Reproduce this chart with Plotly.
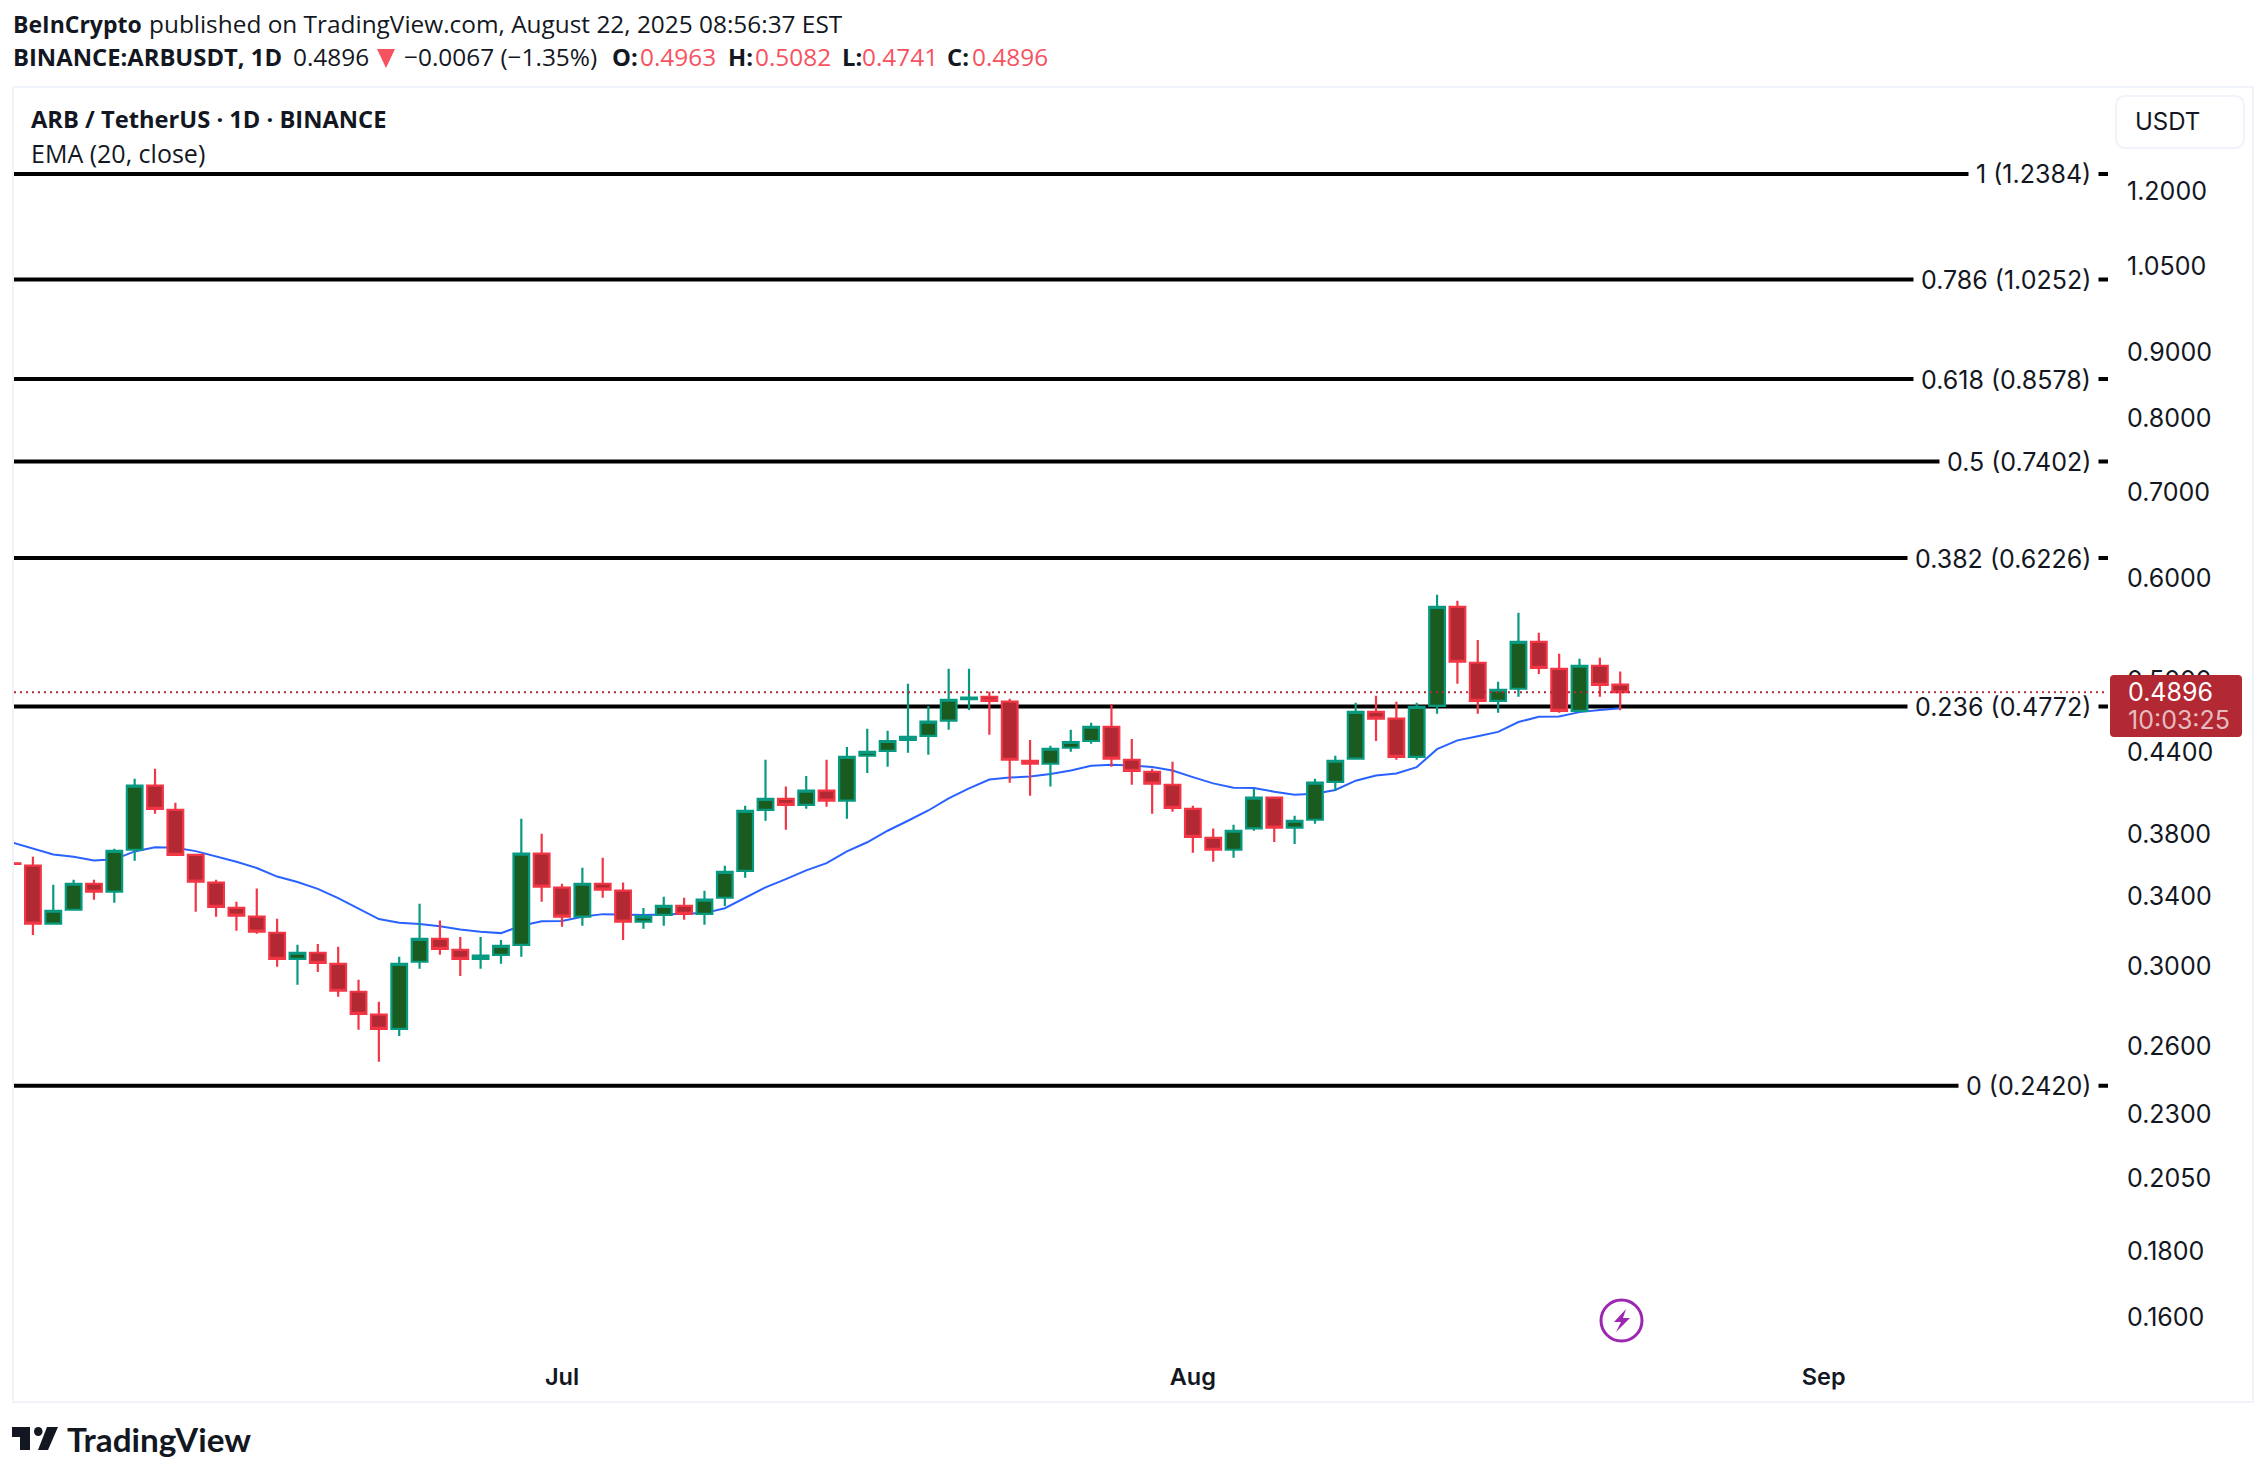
import numpy as np
import pandas as pd
import plotly.graph_objects as go

W, H = 2266, 1476

dates = pd.date_range("2025-06-04", "2025-08-22")
open_ = [.3604, .3589, .3235, .3317, .3475, .3426, .3693, .4142, .3967, .3660, .3482, .3328, .3276, .3183, .3038, .3071,
         .3011, .2864, .2749, .2680, .3022, .3148, .3087, .3038, .3060, .3115, .3667, .3451, .3276, .3475, .3432, .3247,
         .3287, .3340, .3293, .3389, .3556, .3967, .4046, .4002, .4105, .4032, .4370, .4409, .4495, .4528, .4653, .4836,
         .4857, .4815, .4331, .4308, .4433, .4487, .4603, .4339, .4245, .4149, .3974, .3772, .3693, .3837, .4054, .3842,
         .3897, .4171, .4347, .4728, .4670, .4362, .4778, .5705, .5162, .4822, .4927, .5358, .5106, .4736, .5134, .4963]
high = [.3620, .3647, .3469, .3500, .3500, .3699, .4193, .4269, .4017, .3667, .3500, .3365, .3445, .3264, .3115, .3120,
        .3104, .2926, .2813, .3049, .3352, .3253, .3159, .3159, .3142, .3904, .3800, .3475, .3576, .3641, .3482, .3328,
        .3395, .3389, .3432, .3589, .3995, .4339, .4135, .4215, .4339, .4440, .4586, .4570, .4971, .4778, .5106, .5106,
        .4901, .4839, .4495, .4448, .4578, .4636, .4795, .4503, .4269, .4323, .3995, .3837, .3862, .4120, .4061, .3925,
        .4193, .4370, .4804, .4866, .4813, .4804, .5831, .5768, .5377, .4989, .5645, .5447, .5246, .5199, .5209, .5082]
low = [.3590, .3171, .3229, .3311, .3377, .3359, .3621, .3939, .3654, .3305, .3276, .3194, .3177, .2995, .2900, .2967,
       .2839, .2676, .2527, .2646, .2984, .3060, .2946, .2984, .3011, .3049, .3365, .3218, .3223, .3389, .3142, .3206,
       .3223, .3258, .3229, .3340, .3512, .3890, .3828, .3974, .3988, .3904, .4238, .4284, .4394, .4378, .4578, .4744,
       .4537, .4164, .4068, .4135, .4401, .4464, .4284, .4149, .3939, .3953, .3673, .3615, .3641, .3821, .3745, .3732,
       .3869, .4105, .4339, .4487, .4339, .4339, .4711, .4971, .4711, .4719, .4857, .5059, .4719, .4728, .4857, .4741]
close = [.3600, .3235, .3311, .3475, .3426, .3686, .4142, .3974, .3660, .3488, .3334, .3282, .3189, .3038, .3071, .3016,
         .2869, .2753, .2680, .3011, .3148, .3093, .3038, .3055, .3109, .3667, .3457, .3276, .3475, .3438, .3247, .3278,
         .3340, .3293, .3377, .3550, .3960, .4046, .4002, .4105, .4032, .4362, .4401, .4487, .4520, .4645, .4831, .4850,
         .4822, .4339, .4308, .4425, .4479, .4603, .4347, .4253, .4157, .3981, .3779, .3693, .3821, .4054, .3842, .3890,
         .4164, .4331, .4728, .4670, .4362, .4769, .5705, .5171, .4822, .4918, .5358, .5115, .4736, .5134, .4962, .4896]
ema_20 = [.3741, .3699, .3662, .3647, .3623, .3630, .3682, .3710, .3706, .3684, .3649, .3615, .3574, .3520, .3486, .3443,
          .3387, .3326, .3262, .3241, .3233, .3220, .3202, .3189, .3181, .3223, .3249, .3251, .3276, .3291, .3287, .3286,
          .3289, .3291, .3297, .3326, .3391, .3453, .3504, .3559, .3606, .3682, .3743, .3821, .3890, .3962, .4049, .4122,
          .4188, .4203, .4210, .4230, .4256, .4292, .4300, .4295, .4282, .4256, .4206, .4159, .4127, .4125, .4098, .4076,
          .4083, .4110, .4179, .4218, .4233, .4282, .4422, .4492, .4525, .4561, .4642, .4686, .4689, .4725, .4744, .4758]

fib_ratios = ["1", "0.786", "0.618", "0.5", "0.382", "0.236", "0"]
fib_prices = [1.2384, 1.0252, 0.8578, 0.7402, 0.6226, 0.4772, 0.2420]
last_price = 0.4896

price_ticks = [1.2, 1.05, 0.9, 0.8, 0.7, 0.6, 0.5, 0.44, 0.38, 0.34, 0.3, 0.26, 0.23, 0.205, 0.18, 0.16]
price_labels = ["1.2000", "1.0500", "0.9000", "0.8000", "0.7000", "0.6000", "0.5000", "0.4400", "0.3800", "0.3400",
                "0.3000", "0.2600", "0.2300", "0.2050", "0.1800", "0.1600"]
month_ticks = ["2025-07-01", "2025-08-01", "2025-09-01"]
month_labels = ["Jul", "Aug", "Sep"]

x_range = ["2025-06-04 01:41", "2025-09-14 23:17"]
y_range = [np.log10(0.1508), np.log10(1.4445)]

INK = "#131722"
RED = "#f23645"
RED_FILL = "#b22833"
RED_TEXT = "#f7525f"
GREEN = "#089981"
GREEN_FILL = "#1a5c20"
BORDER = "#f0f3fa"
UI_FONT = "Inter"
HEAD_FONT = "Open Sans"


def px(x):
    return x / W


def py(y):
    return 1 - y / H


def rounded_rect(x0, y0, x1, y1, r):
    pts = [f"M {px(x0 + r)} {py(y0)}", f"L {px(x1 - r)} {py(y0)}", f"Q {px(x1)} {py(y0)} {px(x1)} {py(y0 + r)}",
           f"L {px(x1)} {py(y1 - r)}", f"Q {px(x1)} {py(y1)} {px(x1 - r)} {py(y1)}", f"L {px(x0 + r)} {py(y1)}",
           f"Q {px(x0)} {py(y1)} {px(x0)} {py(y1 - r)}", f"L {px(x0)} {py(y0 + r)}",
           f"Q {px(x0)} {py(y0)} {px(x0 + r)} {py(y0)}", "Z"]
    return " ".join(pts)


def polygon(points):
    return "M " + " L ".join(f"{px(a)} {py(b)}" for a, b in points) + " Z"


def add_text(fig, x, y, text, size, color=INK, family=UI_FONT, anchor="left"):
    fig.add_annotation(xref="paper", yref="paper", x=px(x), y=py(y), text=text, showarrow=False, xanchor=anchor,
                       yanchor="middle", font=dict(size=size, color=color, family=family), borderpad=0)


fig = go.Figure()

# fib levels sit behind everything
for price in fib_prices:
    fig.add_trace(go.Scatter(x=x_range, y=[price, price], mode="lines", line=dict(color="#000000", width=4),
                             hoverinfo="skip", showlegend=False))
fig.add_trace(go.Scatter(x=dates, y=ema_20, mode="lines", line=dict(color="#2962ff", width=2), name="EMA (20, close)",
                         showlegend=False))

# candles on an overlay axis pair, otherwise scatter lines get drawn over them
fig.add_trace(go.Candlestick(x=dates, open=open_, high=high, low=low, close=close, xaxis="x2", yaxis="y2",
                             increasing=dict(line=dict(color=GREEN, width=2.2), fillcolor=GREEN_FILL),
                             decreasing=dict(line=dict(color=RED, width=2.2), fillcolor=RED_FILL),
                             showlegend=False))
fig.add_trace(go.Scatter(x=x_range, y=[last_price, last_price], mode="lines", xaxis="x3", yaxis="y3",
                         line=dict(color=RED_FILL, width=2, dash="2px,4px"), hoverinfo="skip", showlegend=False))

x_domain = [px(14), px(2108)]
y_domain = [py(1350), py(88)]
hidden_x = dict(domain=x_domain, type="date", range=x_range, overlaying="x", visible=False, rangeslider=dict(visible=False))
hidden_y = dict(domain=y_domain, type="log", range=y_range, overlaying="y", visible=False)

fig.update_layout(
    width=W, height=H, autosize=False, margin=dict(l=0, r=0, t=0, b=0, pad=0),
    paper_bgcolor="#ffffff", plot_bgcolor="#ffffff", boxgap=0.23, boxgroupgap=0, showlegend=False,
    xaxis=dict(domain=x_domain, type="date", range=x_range, tickvals=month_ticks, ticktext=month_labels, ticks="",
               showgrid=False, zeroline=False, showline=False, ticklabelstandoff=10,
               tickfont=dict(family=UI_FONT, size=23.5, color=INK, weight=600), rangeslider=dict(visible=False)),
    yaxis=dict(domain=y_domain, type="log", range=y_range, side="right", tickvals=price_ticks, ticktext=price_labels,
               ticks="", showgrid=False, zeroline=False, showline=False, ticklabelstandoff=18,
               tickfont=dict(family=UI_FONT, size=25, color=INK)),
    xaxis2=hidden_x, yaxis2=hidden_y, xaxis3=hidden_x, yaxis3=hidden_y,
)

# panel frame
fig.add_shape(type="rect", xref="paper", yref="paper", x0=px(13), x1=px(2253), y0=py(1402), y1=py(87),
              line=dict(color=BORDER, width=2), layer="below")
# currency button and last price tag
fig.add_shape(type="path", xref="paper", yref="paper", path=rounded_rect(2116, 96, 2244, 148, 10),
              line=dict(color=BORDER, width=2), fillcolor="#ffffff")
fig.add_shape(type="path", xref="paper", yref="paper", path=rounded_rect(2110, 675, 2242, 737, 4),
              line=dict(width=0), fillcolor=RED_FILL)
# down arrow in the header
fig.add_shape(type="path", xref="paper", yref="paper", line=dict(width=0), fillcolor=RED_TEXT,
              path=polygon([(377, 49), (395, 49), (386, 68)]))
# lightning mark
fig.add_shape(type="circle", xref="paper", yref="paper", x0=px(1601), x1=px(1642), y0=py(1341), y1=py(1300),
              line=dict(color="#9c27b0", width=3), fillcolor="#ffffff")
fig.add_shape(type="path", xref="paper", yref="paper", line=dict(width=0), fillcolor="#9c27b0",
              path=polygon([(1626, 1309), (1614, 1322), (1621, 1322), (1616, 1332), (1630, 1318), (1623, 1318)]))
# TradingView logo
fig.add_shape(type="path", xref="paper", yref="paper", line=dict(width=0), fillcolor=INK,
              path=polygon([(12, 1427), (30, 1427), (30, 1450), (20, 1450), (20, 1437), (12, 1437)]))
fig.add_shape(type="path", xref="paper", yref="paper", line=dict(width=0), fillcolor=INK,
              path=polygon([(47, 1427), (58, 1427), (48, 1450), (38, 1450)]))
fig.add_shape(type="circle", xref="paper", yref="paper", x0=px(34), x1=px(42.5), y0=py(1436), y1=py(1427),
              line=dict(width=0), fillcolor=INK)

# fib labels, the white box cuts a gap in the level line; kept low so the dotted price line still shows above 0.236
for ratio, price in zip(fib_ratios, fib_prices):
    fig.add_annotation(xref="paper", yref="y", x=px(2099), y=np.log10(price), text=f"\u00a0{ratio} ({price:.4f})\u00a0",
                       showarrow=False, xanchor="right", yanchor="middle", bgcolor="#ffffff", borderpad=0, height=25,
                       font=dict(family=UI_FONT, size=25, color=INK))

# header, second line placed piece by piece
add_text(fig, 12, 24, "<b>BeInCrypto</b>", 23, family=HEAD_FONT)
add_text(fig, 148, 24, "published on TradingView.com, August 22, 2025 08:56:37 EST", 24.4, family=HEAD_FONT)
add_text(fig, 12, 57, "<b>BINANCE:ARBUSDT, 1D</b>", 23.8, family=HEAD_FONT)
add_text(fig, 292, 57, "0.4896", 24.4, family=HEAD_FONT)
add_text(fig, 403, 57, "−0.0067 (−1.35%)", 24.4, family=HEAD_FONT)
for x_key, key, x_val, val in [(611, "O:", 639, "0.4963"), (727, "H:", 754, "0.5082"), (841, "L:", 861, "0.4741"),
                               (946, "C:", 971, "0.4896")]:
    add_text(fig, x_key, 57, f"<b>{key}</b>", 23.8, family=HEAD_FONT)
    add_text(fig, x_val, 57, val, 24.4, color=RED_TEXT, family=HEAD_FONT)
add_text(fig, 30, 119, "<b>ARB / TetherUS · 1D · BINANCE</b>", 23.7, family=HEAD_FONT)
add_text(fig, 30, 153, "EMA (20, close)", 25, family=HEAD_FONT)
add_text(fig, 2134, 122, "USDT", 24)
add_text(fig, 2127, 692, "0.4896", 25, color="#ffffff")
add_text(fig, 2127, 720, "10:03:25", 25, color="rgba(255,255,255,0.7)")
add_text(fig, 66, 1439, "<b>TradingView</b>", 33.3, family="Lato")

fig.write_html("out.html", config={"displayModeBar": False}, post_script="document.body.style.margin='0';")
